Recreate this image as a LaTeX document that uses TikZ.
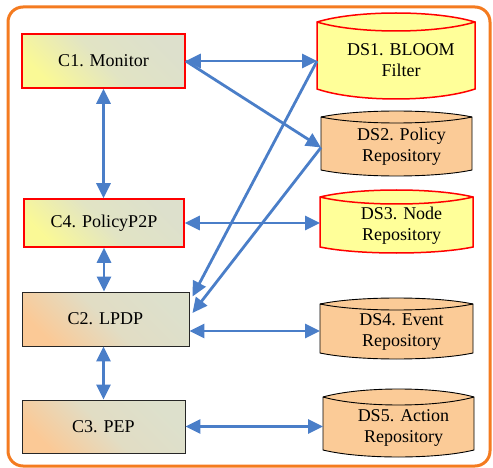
\documentclass[tikz,border=0pt]{standalone}
\usepackage{fontspec}
\setmainfont{Liberation Serif}
\usetikzlibrary{arrows.meta,calc}
\definecolor{bl}{RGB}{74,126,200}
\definecolor{orng}{RGB}{244,123,32}
\definecolor{ylw}{RGB}{255,255,153}
\definecolor{peach}{RGB}{251,203,151}
\definecolor{gg}{RGB}{221,224,204}
\definecolor{yy}{RGB}{250,249,150}
\definecolor{pp}{RGB}{251,201,150}
\tikzset{
  tip/.tip={Triangle[length=15pt,width=14pt]},
  conn/.style={draw=bl, line width=2.8pt, -tip},
  conn2/.style={draw=bl, line width=2.8pt, tip-tip},
  comp/.style={rectangle, inner sep=0pt, font=\fontsize{18}{21}\selectfont},
  redcomp/.style={comp, draw=red, line width=1.6pt, top color=gg, bottom color=yy, middle color=gg!85!yy, shading angle=-45},
  blkcomp/.style={comp, draw=black!85, line width=0.9pt, top color=gg, bottom color=pp, middle color=gg!85!pp, shading angle=-45},
  dstext/.style={align=center, font=\fontsize{18}{21}\selectfont, inner sep=0pt},
  yds/.style={fill=ylw, draw=red, line width=1.5pt},
  ods/.style={fill=peach, draw=black, line width=0.9pt},
  frame/.style={draw=orng, line width=3pt, rounded corners=15pt},
}
\newcommand\dscyl[9]{%
  \pgfmathsetmacro\cxa{#2+0.25*(#4-#2)}%
  \pgfmathsetmacro\cxb{#4-0.25*(#4-#2)}%
  \pgfmathsetmacro\cut{#3-4*#6/3}%
  \pgfmathsetmacro\cuu{#3+4*#6/3}%
  \pgfmathsetmacro\cbb{#5+4*#7/3}%
  \pgfmathsetmacro\cmx{(#2+#4)/2}%
  \pgfmathsetmacro\cmy{(#3+#5)/2}%
  \pgfmathsetmacro\cw{#4-#2}%
  \pgfmathsetmacro\ch{#5-#3}%
  \path[#8] (#2,#3) .. controls (\cxa,\cut) and (\cxb,\cut) .. (#4,#3) -- (#4,#5) .. controls (\cxb,\cbb) and (\cxa,\cbb) .. (#2,#5) -- cycle;
  \path[#8, fill=none] (#2,#3) .. controls (\cxa,\cuu) and (\cxb,\cuu) .. (#4,#3);
  \node[minimum width=\cw pt, minimum height=\ch pt, inner sep=0pt, outer sep=0pt] (#1) at (\cmx,\cmy) {};
  \pgfmathsetmacro\tx{\cmx+5}%
  \pgfmathsetmacro\ty{(#3+#6+#5)/2}%
  \node[dstext] (#1t) at (\tx,\ty) {#9};
}
\begin{document}
\begin{tikzpicture}[x=1pt,y=-1pt]
\useasboundingbox (0,0) rectangle (493,468);
\draw[frame] (8,7) rectangle (490,466);

% components
\node[redcomp, minimum width=163pt, minimum height=54pt] (c1) at (103.5,61) {C1. Monitor};
\node[redcomp, minimum width=160pt, minimum height=48pt] (c4) at (104,223) {C4. PolicyP2P};
\node[blkcomp, minimum width=167pt, minimum height=54pt] (c2) at (105.5,319) {C2. LPDP};
\node[blkcomp, minimum width=163pt, minimum height=53pt] (c3) at (103.5,426.5) {C3. PEP};

% data stores
\dscyl{ds1}{317}{22}{475}{89}{9}{10}{yds}{DS1. BLOOM\\Filter}
\dscyl{ds2}{321}{117}{472}{170}{6}{6}{ods}{DS2. Policy\\Repository}
\dscyl{ds3}{320}{197}{473}{247}{7}{6}{yds}{DS3. Node\\Repository}
\dscyl{ds4}{320}{304}{473}{353}{6}{6}{ods}{DS4. Event\\Repository}
\dscyl{ds5}{323}{397}{474}{450}{8}{7}{ods}{DS5. Action\\Repository}

% helper coordinates
\coordinate (p1) at (c1.east -| ds1.west);
\coordinate (p2) at ($(ds2.west)+(0,4)$);
\coordinate (c2a) at ($(c2.north east)+(3,5)$);
\coordinate (c2b) at ($(c2.east)+(3,-6)$);
\coordinate (c2c) at ($(c2.east)+(0,12)$);

% connectors
\draw[conn2] (c1.east) -- (p1);
\draw[conn] (c1.east) -- (p2);
\draw[conn2] (c4.east) -- (c4.east -| ds3.west);
\draw[conn] (p1) -- (c2a);
\draw[conn] (p2) -- (c2b);
\draw[conn2] (c2c) -- (c2c -| ds4.west);
\draw[conn2] (c3.east) -- (c3.east -| ds5.west);
\draw[conn2] (c1.south) -- (c1.south |- c4.north);
\draw[conn2] (c4.south) -- (c4.south |- c2.north);
\draw[conn2] (c3.north) -- (c3.north |- c2.south);
\end{tikzpicture}
\end{document}
